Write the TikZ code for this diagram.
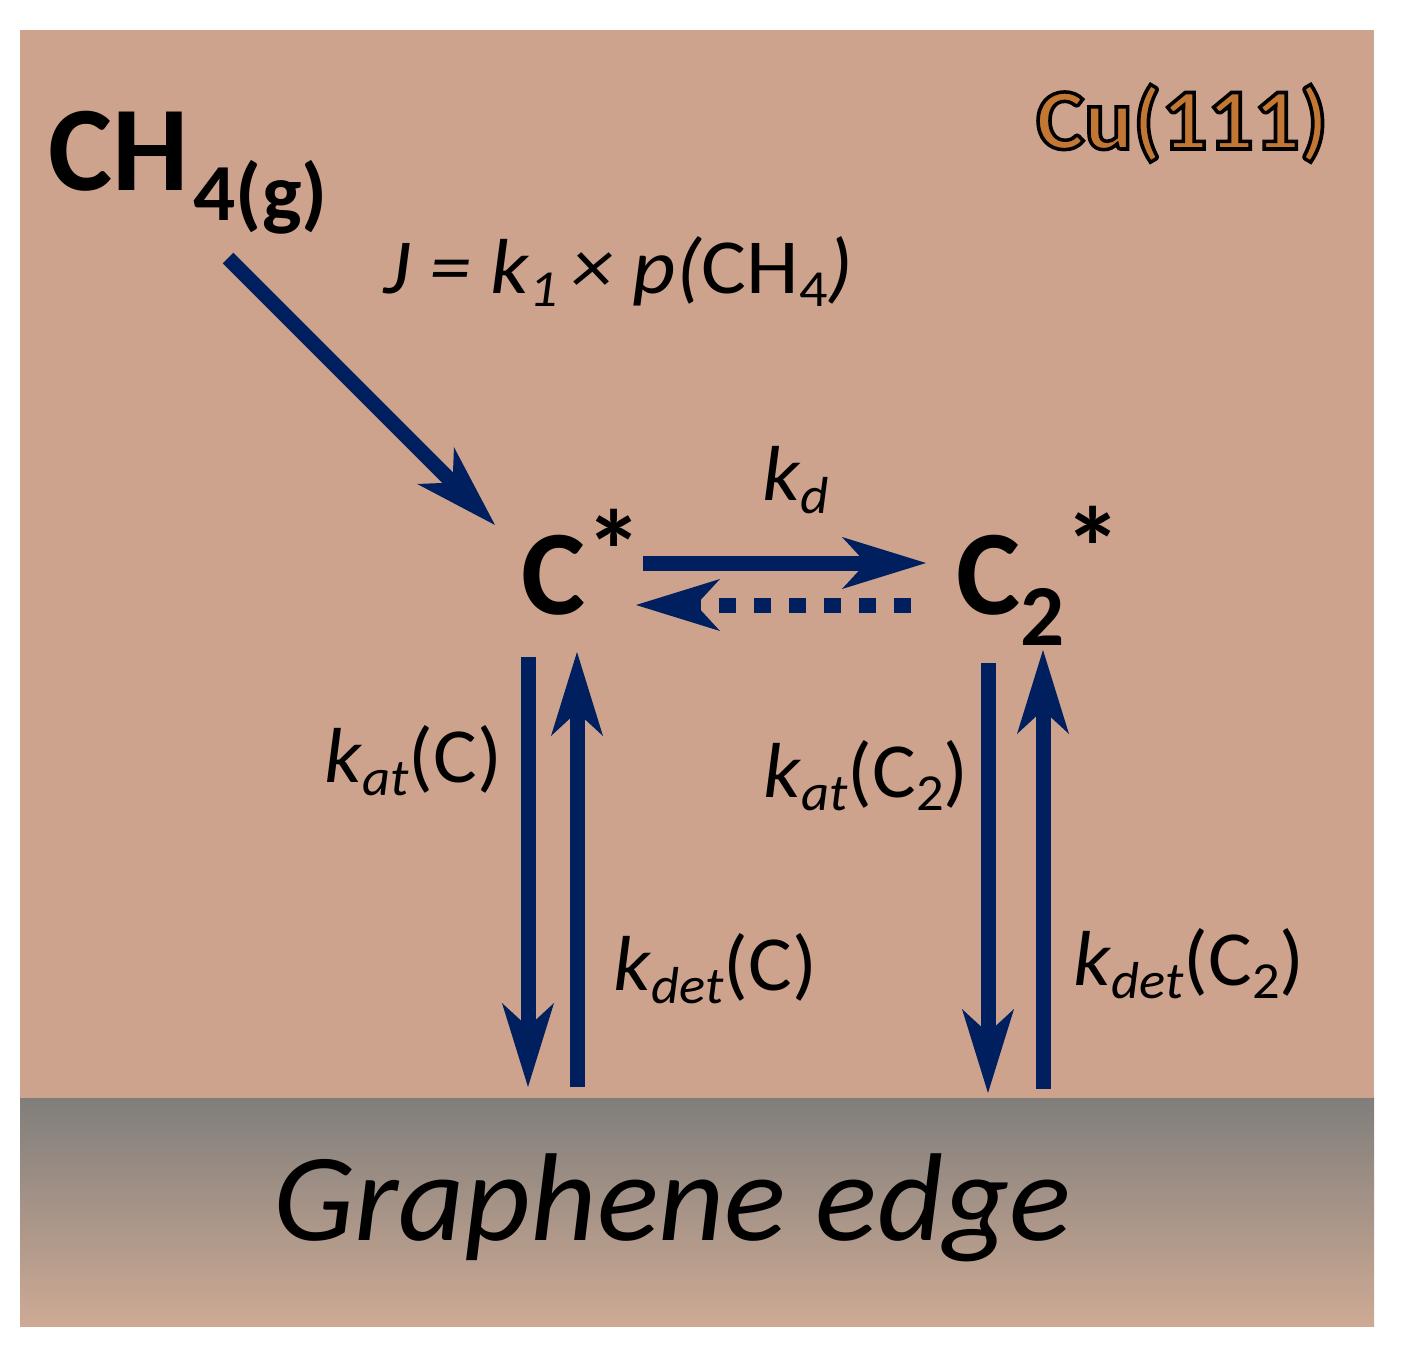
\documentclass[tikz,border=0pt]{standalone}
\usepackage{fontspec}
\setmainfont{Carlito}
\usetikzlibrary{arrows.meta}

\definecolor{cubg}{RGB}{205,163,142}
\definecolor{flowblue}{RGB}{0,31,95}
\definecolor{cuorange}{RGB}{194,120,52}
\definecolor{edgetop}{RGB}{128,126,123}
\definecolor{edgebot}{RGB}{206,170,148}

\newcommand\outlined[1]{\special{pdf:literal direct 2 Tr 0 0 0 RG 3.5 w}#1\special{pdf:literal direct 0 Tr}}
\newcommand\ksub[1]{\raisebox{-13pt}{\fontsize{52}{60}\selectfont #1}}
\newcommand\ratelabel{\fontsize{78}{90}\selectfont}
\newcommand\widen[2]{\scalebox{#1}[1]{#2}}
\newcommand\species{\fontsize{121}{130}\selectfont\bfseries}
\newcommand\adstar[1]{\raisebox{#1}{\fontsize{115}{120}\selectfont *}}

\begin{document}
\begin{tikzpicture}
            [x=1pt, y=-1pt,
             every node/.style={inner sep=0pt, anchor=base west},
             flow/.style={line width=15pt, color=flowblue,
               -{Stealth[length=84pt, width=52pt, inset=24pt, line width=0pt]}}]
                \useasboundingbox (0,0) rectangle (1405,1346);
                \fill[white] (0,0) rectangle (1405,1346);
                \fill[cubg] (20,30) rectangle (1374,1098);
                \shade[top color=edgetop, bottom color=edgebot] (20,1098) rectangle (1374,1326);
                \node (cu) at (1036,149) {\fontsize{87}{96}\selectfont\bfseries\widen{1.045}{\textcolor{cuorange}{\outlined{Cu(111)}}}};
                \node (ch4) at (48,190) {\species CH\kern5pt\raisebox{-30pt}{\fontsize{81}{90}\selectfont\widen{1.03}{4(g)}}};
                \node (flux) at (383,293) {\ratelabel\widen{1.08}{\textit{J = k}\ksub{\textit{1}}\,\textit{× p(}CH\ksub{4}\textit{)}}};
                \node (kd) at (762,500) {\ratelabel\widen{1.06}{\textit{k}\ksub{\textit{d}}}};
                \node (cstar) at (521,614) {\species C\adstar{23pt}};
                \node (ctwo) at (956,614) {\species C\raisebox{-31pt}{\fontsize{87}{95}\selectfont 2}\adstar{26pt}};
                \node (katc) at (324,782) {\ratelabel\widen{1.05}{\textit{k}\ksub{\textit{at}}(C)}};
                \node (kdetc) at (613,990) {\ratelabel\widen{1.05}{\textit{k}\ksub{\textit{det}}(C)}};
                \node (katctwo) at (763,797) {\ratelabel\widen{1.05}{\textit{k}\ksub{\textit{at}}(C\ksub{2})}};
                \node (kdetctwo) at (1073,985) {\ratelabel\widen{1.05}{\textit{k}\ksub{\textit{det}}(C\ksub{2})}};
                \node (edge) at (273,1240) {\fontsize{125}{135}\selectfont\itshape\widen{1.03}{Graphene edge}};
                \coordinate (gas) at (228,258);
                \coordinate (cin) at (495,525);
                \coordinate (kdfrom) at (643,563);
                \coordinate (kdto) at (926,563);
                \coordinate (kbfrom) at (911,605);
                \coordinate (kbto) at (636,605);
                \coordinate (cattop) at (528,657);
                \coordinate (catbot) at (528,1087);
                \coordinate (cdetbot) at (577,1087);
                \coordinate (cdettop) at (577,652);
                \coordinate (c2attop) at (988,663);
                \coordinate (c2atbot) at (988,1093);
                \coordinate (c2detbot) at (1043,1089);
                \coordinate (c2dettop) at (1043,650);
                \draw [flow] (gas) to (cin);
                \draw [flow] (kdfrom) to (kdto);
                \draw [flow, dash pattern=on 17pt off 18pt] (kbfrom) to (kbto);
                \draw [flow] (cattop) to (catbot);
                \draw [flow] (cdetbot) to (cdettop);
                \draw [flow] (c2attop) to (c2atbot);
                \draw [flow] (c2detbot) to (c2dettop);
            \end{tikzpicture}
\end{document}
